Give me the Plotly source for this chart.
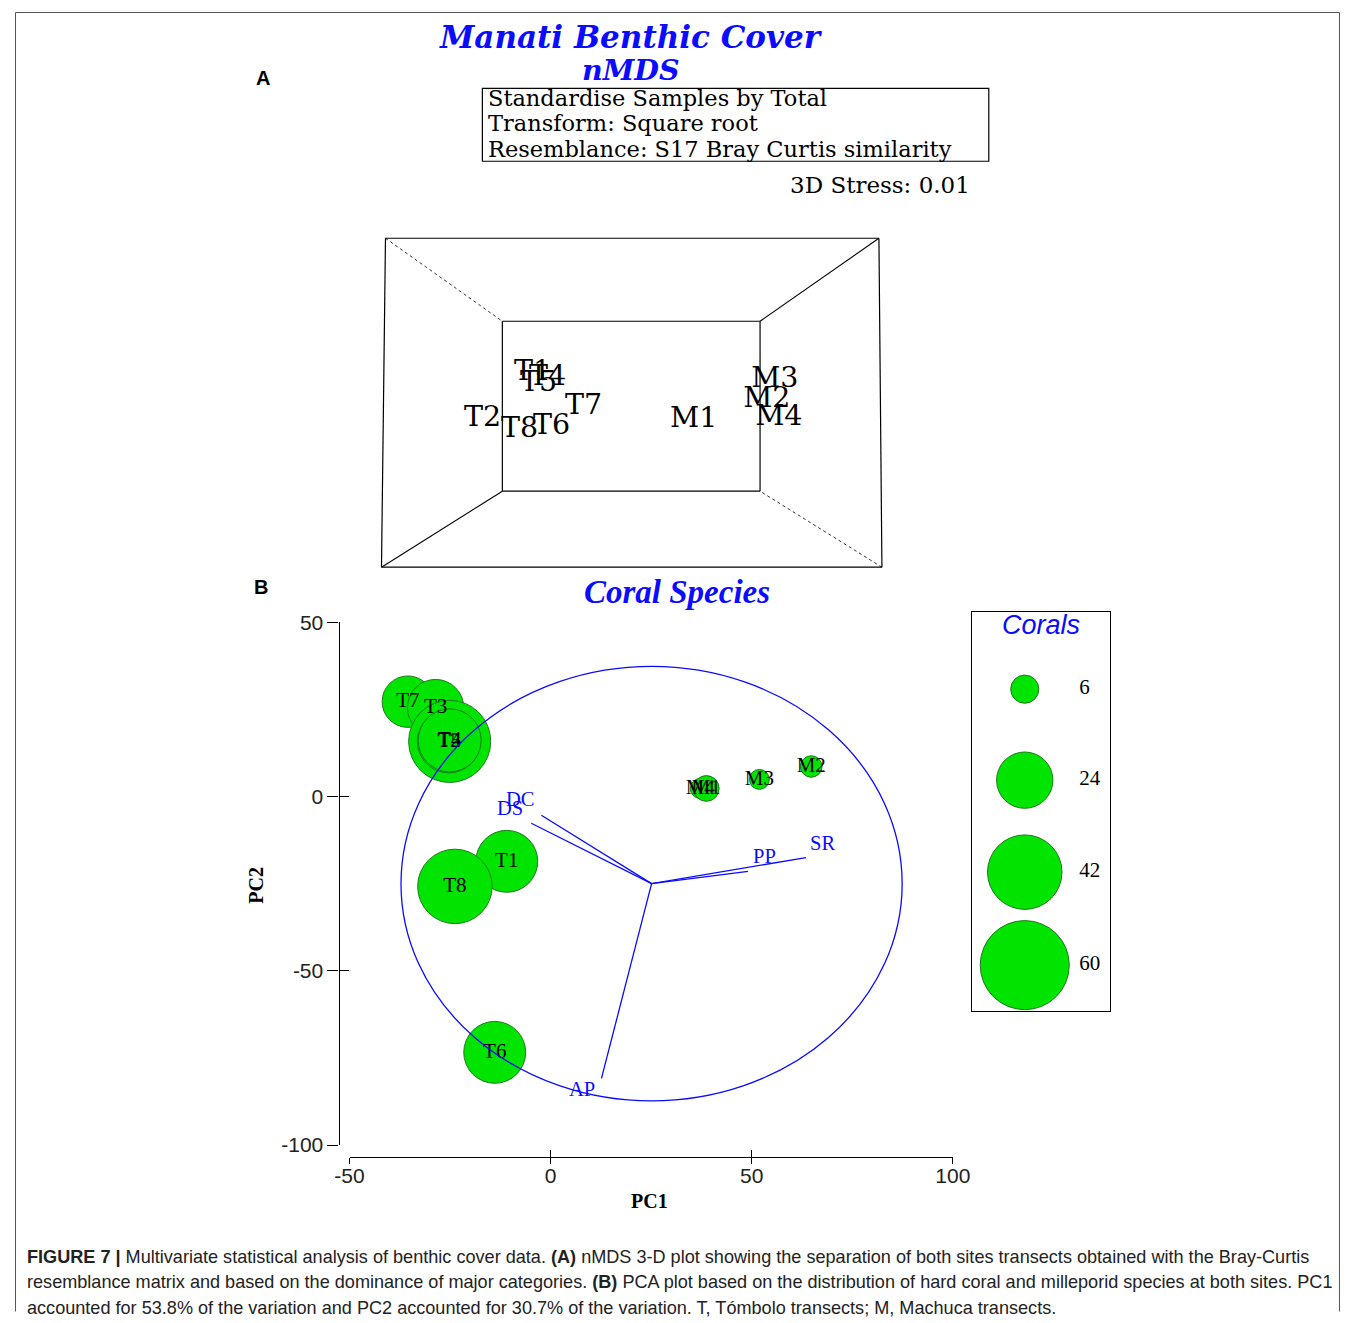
import plotly.graph_objects as go

W, H = 1358, 1323

# ---------------- Panel B: PCA of coral species ----------------
transects = ["T7", "T3", "T5", "T2", "T4", "T1", "T8", "T6", "M4", "M1", "M3", "M2"]
pc1 = [-35.5, -28.6, -25.1, -25.3, -25.1, -10.9, -23.8, -13.9, 37.2, 38.7, 51.9, 64.8]
pc2 = [27.2, 25.5, 15.8, 15.8, 16.1, -18.6, -25.8, -73.4, 2.3, 2.3, 4.9, 8.6]
corals = [20, 24, 51, 30, 30, 29, 42, 29, 3, 5, 3, 3.5]

species = ["DC", "DS", "PP", "SR", "AP"]
load_pc1 = [-0.44, -0.48, 0.385, 0.616, -0.20]
load_pc2 = [0.315, 0.278, 0.056, 0.12, -0.897]
circle_centre = (25.1, -25.0)
circle_radius = 62.3

legend_values = [6, 24, 42, 60]

pc_ticks = [-50, 0, 50, 100]
pc2_ticks = [-100, -50, 0, 50]

# ---------------- Panel A: nMDS (projected 3-D ordination) ----------------
nmds_labels = ["T1", "T4", "T5", "T7", "T2", "T8", "T6", "M1", "M3", "M2", "M4"]
nmds_x = [-0.99, -0.84, -0.93, -0.48, -1.49, -1.12, -0.80, 0.62, 1.43, 1.35, 1.47]
nmds_y = [0.295, 0.245, 0.185, -0.045, -0.165, -0.275, -0.245, -0.175, 0.225, 0.025, -0.155]
stress_3d = 0.01

# layout helpers: page pixel -> paper fraction (the page view is inset/scaled slightly)
SX, OX = 0.9768, 14.1
SY, OY = 0.9828, 11.7


def fx(px):
    return min(max(((px - OX) / SX) / W, 0.0004), 0.9996)


def fy(py):
    return 1 - min(max(((py - OY) / SY) / H, 0.0004), 0.9996)


BLUE = "#0b0bff"
GREEN = "#00e400"
EDGE = "#1d7a1d"
SERIF_A = "DejaVu Serif"
SERIF_B = "Liberation Serif"
SANS = "Liberation Sans"
# marker area mode: pixel diameter = 11.5 * sqrt(value)
SIZEREF = 2 / 11.5 ** 2

fig = go.Figure()

# bubbles (size = number of corals)
fig.add_trace(go.Scatter(
    x=pc1, y=pc2, mode="markers+text", text=transects,
    textposition="middle center",
    textfont=dict(family=SERIF_B, size=21, color="black"),
    marker=dict(size=corals, sizemode="area", sizeref=SIZEREF, color=GREEN,
                line=dict(color=EDGE, width=1), opacity=1),
    cliponaxis=False, showlegend=False, hoverinfo="skip",
))

# species vectors from the centre of the correlation circle
cx, cy = circle_centre
vx, vy = [], []
for lx, ly in zip(load_pc1, load_pc2):
    vx += [cx, cx + lx * circle_radius, None]
    vy += [cy, cy + ly * circle_radius, None]
fig.add_trace(go.Scatter(
    x=vx, y=vy, mode="lines", line=dict(color=BLUE, width=1.3),
    showlegend=False, hoverinfo="skip", cliponaxis=False,
))

# secondary overlay axes carrying the inward half of the tick marks
fig.add_trace(go.Scatter(x=[None], y=[None], xaxis="x4", yaxis="y4",
                         showlegend=False, hoverinfo="skip"))

# bubble-size legend
legend_rows_px = [689, 780, 872, 965]
box_top, box_bot = 612, 1011
legend_y = [(fy(p) - fy(box_bot)) / (fy(box_top) - fy(box_bot)) for p in legend_rows_px]
fig.add_trace(go.Scatter(
    x=[0.384] * len(legend_values), y=legend_y, mode="markers",
    marker=dict(size=legend_values, sizemode="area", sizeref=SIZEREF, color=GREEN,
                line=dict(color=EDGE, width=1), opacity=1),
    xaxis="x2", yaxis="y2", showlegend=False, hoverinfo="skip", cliponaxis=False,
))
fig.add_trace(go.Scatter(
    x=[0.78] * len(legend_values), y=legend_y, mode="text",
    text=[str(v) for v in legend_values], textposition="middle right",
    textfont=dict(family=SERIF_B, size=21, color="black"),
    xaxis="x2", yaxis="y2", showlegend=False, hoverinfo="skip", cliponaxis=False,
))

# nMDS labels
fig.add_trace(go.Scatter(
    x=nmds_x, y=nmds_y, mode="text", text=nmds_labels, textposition="middle center",
    textfont=dict(family=SERIF_A, size=28.5, color="black"),
    xaxis="x3", yaxis="y3", showlegend=False, hoverinfo="skip", cliponaxis=False,
))

shapes = []
# correlation circle
shapes.append(dict(type="circle", xref="x", yref="y",
                   x0=cx - circle_radius, x1=cx + circle_radius,
                   y0=cy - circle_radius, y1=cy + circle_radius,
                   line=dict(color=BLUE, width=1.3)))


def seg(x0, y0, x1, y1, width=1.2, dash="solid", color="black"):
    shapes.append(dict(type="line", xref="paper", yref="paper",
                       x0=fx(x0), y0=fy(y0), x1=fx(x1), y1=fy(y1),
                       line=dict(color=color, width=width, dash=dash)))


# 3-D box of the nMDS panel
seg(385, 238, 879, 238)
seg(879, 238, 882, 567)
seg(882, 567, 381, 567)
seg(381, 567, 385, 238)
seg(502, 321, 760, 321)
seg(760, 321, 760, 491)
seg(760, 491, 502, 491)
seg(502, 491, 502, 321)
seg(385, 238, 502, 321, width=0.8, dash="dot")
seg(879, 238, 760, 321, width=1.1)
seg(381, 567, 502, 491, width=1.1)
seg(882, 567, 760, 491, width=0.8, dash="dot")

# info box of the nMDS panel
shapes.append(dict(type="rect", xref="paper", yref="paper",
                   x0=fx(482), x1=fx(989), y0=fy(161), y1=fy(88),
                   line=dict(color="black", width=1.2)))

# figure frame
seg(8, 8, 1356, 8, width=1, color="#555")
seg(8, 8, 8, 1323, width=1, color="#555")
seg(1356, 8, 1356, 1323, width=1, color="#555")

annotations = []


def note(text, x, y, size, family, color="black", xanchor="center", yanchor="middle",
         bold=False, italic=False, textangle=0):
    annotations.append(dict(
        text=text, x=fx(x), y=fy(y), xref="paper", yref="paper", showarrow=False,
        xanchor=xanchor, yanchor=yanchor, textangle=textangle,
        font=dict(size=size, family=family, color=color,
                  weight="bold" if bold else "normal",
                  style="italic" if italic else "normal"),
    ))


note("Manati Benthic Cover", 631, 37, 31, SERIF_A, BLUE, bold=True, italic=True)
note("nMDS", 631, 70, 28.5, SERIF_A, BLUE, bold=True, italic=True)
note("Standardise Samples by Total", 486, 98, 22.5, SERIF_A, xanchor="left")
note("Transform: Square root", 486, 123, 22.5, SERIF_A, xanchor="left")
note("Resemblance: S17 Bray Curtis similarity", 486, 149, 22.5, SERIF_A, xanchor="left")
note(f"3D Stress: {stress_3d:.2f}", 972, 185, 23, SERIF_A, xanchor="right")
note("A", 262, 78, 20, SANS, bold=True)
note("B", 260, 587, 20, SANS, bold=True)
note("Coral Species", 677, 592, 33, SERIF_B, BLUE, bold=True, italic=True)
note("Corals", 1041, 625, 27, SANS, BLUE, italic=True)
note("PC1", 649, 1201, 20, SERIF_B, bold=True)
note("PC2", 256, 885, 20, SERIF_B, bold=True, textangle=-90)

# species vector labels
label_shift = {"DC": (-21, 16), "DS": (-21, 15), "PP": (16, 15), "SR": (17, 15), "AP": (-19, -11)}
for name, lx, ly in zip(species, load_pc1, load_pc2):
    sx, sy = label_shift[name]
    annotations.append(dict(
        text=name, x=cx + lx * circle_radius, y=cy + ly * circle_radius,
        xref="x", yref="y", showarrow=False, xshift=sx, yshift=sy,
        font=dict(size=20.5, family=SERIF_B, color=BLUE),
    ))

# caption
CAP = "Liberation Sans"
cap_lines = [
    "<b>FIGURE 7 |</b> Multivariate statistical analysis of benthic cover data. <b>(A)</b> nMDS 3-D plot showing the separation of both sites transects obtained with the Bray-Curtis",
    "resemblance matrix and based on the dominance of major categories. <b>(B)</b> PCA plot based on the distribution of hard coral and milleporid species at both sites. PC1",
    "accounted for 53.8% of the variation and PC2 accounted for 30.7% of the variation. T, Tómbolo transects; M, Machuca transects.",
]
for i, line in enumerate(cap_lines):
    note(line, 24, 1257 + 25.3 * i, 18.1, CAP, "#222", xanchor="left")

tickfont = dict(family=SANS, size=21, color="#222")
axis_common = dict(showgrid=False, zeroline=False)

fig.update_layout(
    width=W, height=H, autosize=False, margin=dict(l=0, r=0, t=0, b=0),
    paper_bgcolor="white", plot_bgcolor="rgba(0,0,0,0)",
    showlegend=False, shapes=shapes, annotations=annotations,
    xaxis=dict(domain=[fx(349), fx(953)], range=[-50, 100], anchor="free",
               position=fy(1157), showline=True, linecolor="black", linewidth=1.2,
               ticks="outside", ticklen=6, tickcolor="black", tickvals=pc_ticks,
               ticktext=[str(v) for v in pc_ticks], ticklabelstandoff=-6,
               tickfont=tickfont, **axis_common),
    yaxis=dict(domain=[fy(1145), fy(622)], range=[-100, 50], anchor="free",
               position=fx(338), showline=True, linecolor="black", linewidth=1.2,
               ticks="outside", ticklen=11, tickcolor="black", tickvals=pc2_ticks,
               ticktext=[str(v) for v in pc2_ticks],
               tickfont=tickfont, **axis_common),
    xaxis4=dict(overlaying="x", range=[-50, 100], anchor="free", position=fy(1157),
                ticks="inside", ticklen=7, tickcolor="black", tickvals=pc_ticks,
                showticklabels=False, showline=False, **axis_common),
    yaxis4=dict(overlaying="y", range=[-100, 50], anchor="free", position=fx(338),
                ticks="inside", ticklen=9, tickcolor="black", tickvals=pc2_ticks,
                showticklabels=False, showline=False, **axis_common),
    xaxis2=dict(domain=[fx(972), fx(1110)], range=[0, 1], anchor="y2",
                showline=True, mirror=True, linecolor="black", linewidth=1.2,
                showticklabels=False, ticks="", **axis_common),
    yaxis2=dict(domain=[fy(box_bot), fy(box_top)], range=[0, 1], anchor="x2",
                showline=True, mirror=True, linecolor="black", linewidth=1.2,
                showticklabels=False, ticks="", **axis_common),
    xaxis3=dict(domain=[fx(381), fx(882)], range=[-2.5, 2.5], anchor="y3",
                visible=False, **axis_common),
    yaxis3=dict(domain=[fy(567), fy(238)], range=[-1.645, 1.645], anchor="x3",
                visible=False, **axis_common),
)

fig.write_html("out.html")
